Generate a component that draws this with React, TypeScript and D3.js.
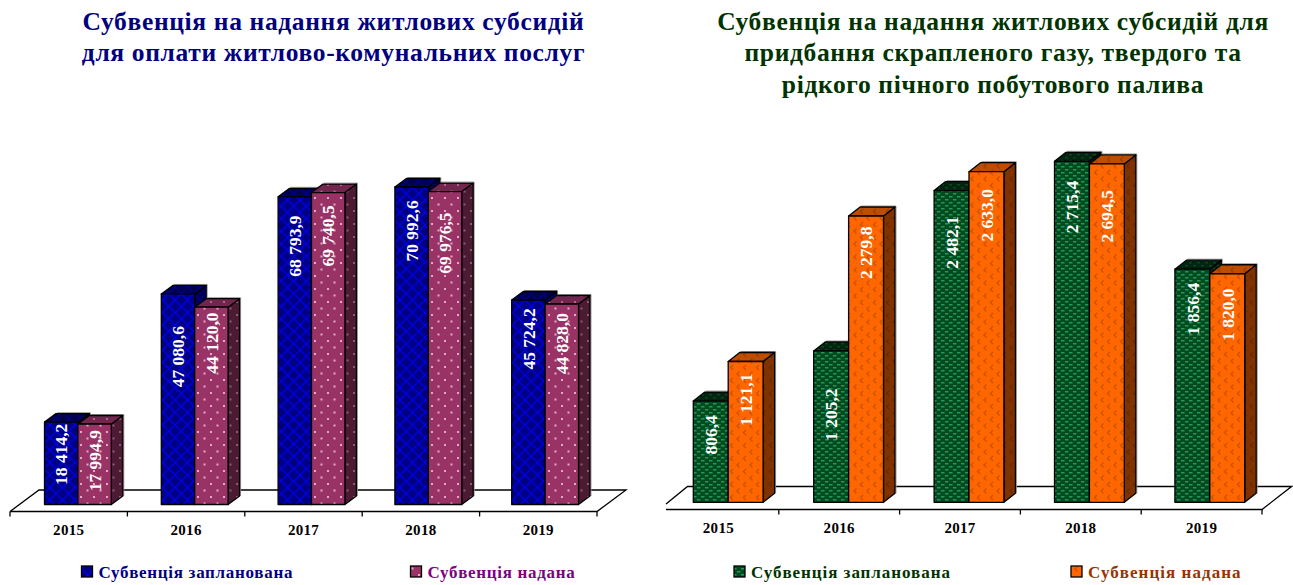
import React from "react";
import * as d3 from "d3";

const years = ["2015", "2016", "2017", "2018", "2019"];
const leftPlanned = [18414.2, 47080.6, 68793.9, 70992.6, 45724.2];
const leftGranted = [17994.9, 44120.0, 69740.5, 69976.5, 44828.0];
const rightPlanned = [806.4, 1205.2, 2482.1, 2715.4, 1856.4];
const rightGranted = [1121.1, 2279.8, 2633.0, 2694.5, 1820.0];
// height (in data units) at which each value label is centred in the original
const leftPlannedLabelAt = [11225, 33050, 57800, 61160, 37010];
const leftGrantedLabelAt = [9790, 36110, 60040, 58470, 35960];
const rightPlannedLabelAt = [537, 698, 2069, 2351, 1539];
const rightGrantedLabelAt = [816, 1987, 2285, 2277, 1494];
const leftTitle = ["Субвенція на надання житлових субсидій", "для оплати житлово-комунальних послуг"];
const rightTitle = ["Субвенція на надання житлових субсидій для", "придбання скрапленого газу, твердого та", "рідкого пічного побутового палива"];
const legendPlanned = "Субвенція запланована";
const legendGranted = "Субвенція надана";

const FONT = "'Liberation Serif', 'Times New Roman', serif";
const fmt = (v: number) => {
  const [a, b] = v.toFixed(1).split(".");
  return a.replace(/\B(?=(\d{3})+$)/g, " ") + "," + b;
};

type Skin = { fill: string; side: string; top: string };

function Bar({ x, w, y0, y1, dx, dy, skin }: any) {
  const f = skin as Skin;
  const h = y0 - y1;
  return (
    <g stroke="#000" strokeWidth={1.3} strokeLinejoin="round">
      <path
        d={`M${x + dx + 1},${y1 - dy - 1} L${x + w + dx + 1},${y1 - dy - 1} L${x + w + dx + 1},${y0 - dy}`}
        fill="none"
        stroke="#9a9a9a"
        strokeWidth={1}
      />
      <path d={`M${x + w},${y0} L${x + w + dx},${y0 - dy} L${x + w + dx},${y1 - dy} L${x + w},${y1} Z`} fill={f.side} />
      <path d={`M${x},${y1} L${x + dx},${y1 - dy} L${x + w + dx},${y1 - dy} L${x + w},${y1} Z`} fill={f.top} />
      <rect x={x} y={y1} width={w} height={h} fill={f.fill} />
    </g>
  );
}

function BarLabel({ x, w, y, label, fontSize }: any) {
  return (
    <text
      transform={`translate(${x + w / 2 + 0.5 + fontSize * 0.33},${y}) rotate(-90)`}
      textAnchor="middle"
      fill="#fff"
      fontFamily={FONT}
      fontWeight="bold"
      fontSize={fontSize}
    >
      {label}
    </text>
  );
}

function Panel({ planned, granted, plannedAt, grantedAt, cfg, skinA, skinB }: any) {
  const axisBand = d3.scaleBand<string>().domain(years).range([cfg.x0, cfg.x1]);
  const barBand = d3.scaleBand<string>().domain(years).range([cfg.barX0, cfg.barX0 + cfg.pitch * years.length]);
  const y = d3.scaleLinear().domain([0, cfg.vmax]).range([cfg.base, cfg.base - cfg.hmax]);
  const ticks = d3.range(years.length + 1).map((i) => cfg.x0 + i * axisBand.bandwidth());
  return (
    <g>
      <path
        d={`M${cfg.clipX},${cfg.clipY} L${cfg.x0 + cfg.fx},${cfg.backY} L${cfg.x1 + cfg.fx},${cfg.backY} L${cfg.x1},${cfg.frontY} L${cfg.clipX},${cfg.frontY}`}
        fill="#fff"
        stroke="#000"
        strokeWidth={1.3}
      />
      {ticks.filter((t) => t >= cfg.clipX).map((t) => (
        <line key={t} x1={t} x2={t} y1={cfg.frontY} y2={cfg.frontY + 5} stroke="#000" strokeWidth={1.3} />
      ))}
      {years.map((yr, i) => {
        const x = barBand(yr) as number;
        return (
          <g key={yr}>
            <Bar x={x} w={cfg.w} y0={y(0)} y1={y(planned[i])} dx={cfg.dx} dy={cfg.dy} skin={skinA} />
            <Bar x={x + cfg.w} w={cfg.w} y0={y(0)} y1={y(granted[i])} dx={cfg.dx} dy={cfg.dy} skin={skinB} />
            <BarLabel x={x} w={cfg.w} y={y(plannedAt[i])} label={fmt(planned[i])} fontSize={cfg.fs} />
            <BarLabel x={x + cfg.w} w={cfg.w} y={y(grantedAt[i])} label={fmt(granted[i])} fontSize={cfg.fs} />
            <text x={(axisBand(yr) as number) + axisBand.bandwidth() / 2} y={cfg.frontY + 23} textAnchor="middle" fontFamily={FONT} fontWeight="bold" fontSize={15} letterSpacing={0.3} fill="#000">
              {yr}
            </text>
          </g>
        );
      })}
    </g>
  );
}

function Legend({ x, text, swatch, color, spacing }: any) {
  return (
    <g>
      <rect x={x} y={566} width={11} height={11} fill={swatch} stroke="#000" strokeWidth={1.3} />
      <text x={x + 17} y={577.5} fontFamily={FONT} fontWeight="bold" fontSize={17} letterSpacing={spacing} fill={color}>
        {text}
      </text>
    </g>
  );
}

function Title({ lines, cx, y0, color }: any) {
  return (
    <g>
      {lines.map((l: string, i: number) => (
        <text key={l} x={cx} y={y0 + i * 31.5} textAnchor="middle" fontFamily={FONT} fontWeight="bold" fontSize={25.5} letterSpacing={0.65} fill={color}>
          {l}
        </text>
      ))}
    </g>
  );
}

const leftCfg = { x0: 10, x1: 597, fx: 29, backY: 490, frontY: 511.5, clipX: 10, clipY: 511.5, base: 504.5, vmax: 70992.6, hmax: 317.5, w: 33.4, dx: 11.5, dy: 8.5, barX0: 44.5, pitch: 116.8, fs: 17.5 };
const rightCfg = { x0: 658, x1: 1262, fx: 29.5, backY: 486.5, frontY: 509.5, clipX: 666, clipY: 504, base: 502.3, vmax: 2715.4, hmax: 341, w: 34.9, dx: 11.5, dy: 9, barX0: 693.3, pitch: 120.4, fs: 17.5 };

export default function App() {
  return (
    <svg width={1293} height={585} style={{ position: "absolute", left: 0, top: 0, background: "#fff" }}>
      <defs>
        <pattern id="pBlue" width={12.5} height={12.5} patternUnits="userSpaceOnUse">
          <rect width={12.5} height={12.5} fill="#000080" />
          <path d="M0,0 L12.5,12.5 M12.5,0 L0,12.5" stroke="#0000f0" strokeWidth={1.2} />
        </pattern>
        <pattern id="pBlueS" width={12.5} height={12.5} patternUnits="userSpaceOnUse">
          <rect width={12.5} height={12.5} fill="#000050" />
          <path d="M0,0 L12.5,12.5 M12.5,0 L0,12.5" stroke="#000090" strokeWidth={1} />
        </pattern>
        <pattern id="pPink" width={13} height={13} patternUnits="userSpaceOnUse">
          <rect width={13} height={13} fill="#993366" />
          <rect x={2} y={2} width={2} height={2} fill="#e3a8c8" />
          <rect x={8.5} y={8.5} width={2} height={2} fill="#e3a8c8" />
        </pattern>
        <pattern id="pPinkS" width={13} height={13} patternUnits="userSpaceOnUse">
          <rect width={13} height={13} fill="#4d1a33" />
          <rect x={2} y={2} width={2} height={2} fill="#8a5a74" />
          <rect x={8.5} y={8.5} width={2} height={2} fill="#8a5a74" />
        </pattern>
        <pattern id="pPinkT" width={13} height={13} patternUnits="userSpaceOnUse">
          <rect width={13} height={13} fill="#73264d" />
          <rect x={2} y={2} width={2} height={2} fill="#a8688a" />
          <rect x={8.5} y={8.5} width={2} height={2} fill="#a8688a" />
        </pattern>
        <pattern id="pGreen" width={8} height={6} patternUnits="userSpaceOnUse">
          <rect width={8} height={6} fill="#004a20" />
          <rect x={1} y={1} width={3.4} height={1.5} fill="#23975a" />
          <rect x={5} y={4} width={3} height={1.5} fill="#23975a" />
          <rect x={0} y={4} width={0.5} height={1.5} fill="#23975a" />
        </pattern>
        <pattern id="pGreenS" width={8} height={6} patternUnits="userSpaceOnUse">
          <rect width={8} height={6} fill="#00240f" />
          <rect x={1} y={1} width={3} height={1.4} fill="#0f4725" />
          <rect x={5} y={4} width={3} height={1.4} fill="#0f4725" />
        </pattern>
        <pattern id="pOrange" width={13} height={13} patternUnits="userSpaceOnUse">
          <rect width={13} height={13} fill="#ff6600" />
          <path d="M5,1 L2.5,3.5 L5,6 M11.5,7.5 L9,10 L11.5,12.5" fill="none" stroke="#cc5200" strokeWidth={1.4} />
        </pattern>
        <pattern id="pOrangeS" width={13} height={13} patternUnits="userSpaceOnUse">
          <rect width={13} height={13} fill="#803300" />
          <path d="M5,1 L2.5,3.5 L5,6 M11.5,7.5 L9,10 L11.5,12.5" fill="none" stroke="#662900" strokeWidth={1.3} />
        </pattern>
        <pattern id="pOrangeT" width={13} height={13} patternUnits="userSpaceOnUse">
          <rect width={13} height={13} fill="#bf4d00" />
          <path d="M5,1 L2.5,3.5 L5,6 M11.5,7.5 L9,10 L11.5,12.5" fill="none" stroke="#993d00" strokeWidth={1.3} />
        </pattern>
      </defs>

      <Title lines={leftTitle} cx={333.5} y0={29.5} color="#000080" />
      <Title lines={rightTitle} cx={993} y0={29.5} color="#003300" />

      <Panel planned={leftPlanned} granted={leftGranted} plannedAt={leftPlannedLabelAt} grantedAt={leftGrantedLabelAt} cfg={leftCfg}
        skinA={{ fill: "url(#pBlue)", side: "url(#pBlueS)", top: "url(#pBlueS)" }}
        skinB={{ fill: "url(#pPink)", side: "url(#pPinkS)", top: "url(#pPinkT)" }} />
      <Panel planned={rightPlanned} granted={rightGranted} plannedAt={rightPlannedLabelAt} grantedAt={rightGrantedLabelAt} cfg={rightCfg}
        skinA={{ fill: "url(#pGreen)", side: "url(#pGreenS)", top: "url(#pGreenS)" }}
        skinB={{ fill: "url(#pOrange)", side: "url(#pOrangeS)", top: "url(#pOrangeT)" }} />

      <Legend x={81.5} text={legendPlanned} swatch="url(#pBlue)" color="#000080" spacing={0.7} />
      <Legend x={410.5} text={legendGranted} swatch="url(#pPink)" color="#800080" spacing={0.7} />
      <Legend x={734} text={legendPlanned} swatch="url(#pGreen)" color="#003300" spacing={0.95} />
      <Legend x={1071} text={legendGranted} swatch="url(#pOrange)" color="#993300" spacing={1.05} />
    </svg>
  );
}
